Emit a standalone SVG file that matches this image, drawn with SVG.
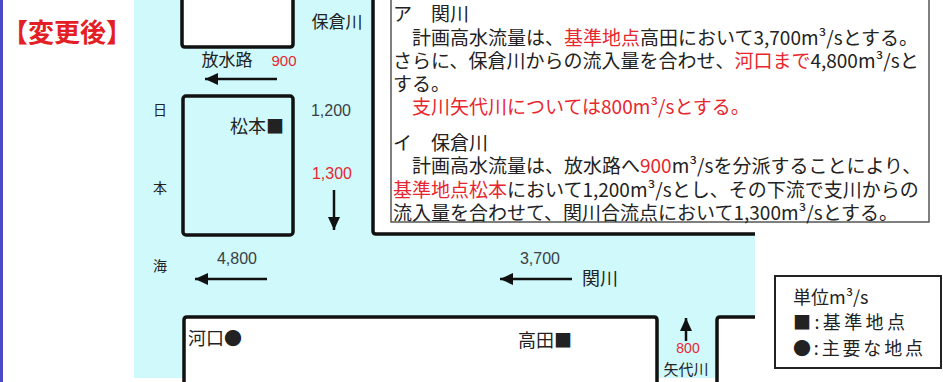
<svg xmlns="http://www.w3.org/2000/svg" width="943" height="382" viewBox="0 0 943 382">
<style>
.jp{font-family:"Noto Sans CJK JP","Noto Sans",sans-serif;fill:#222}
.num{font-family:"Liberation Sans","DejaVu Sans",sans-serif;fill:#3a3f45}
.red{fill:#e8262e}
.land{fill:none;stroke:#111;stroke-width:3.5;stroke-linejoin:round}
.arr{stroke:#111;stroke-width:2.5;fill:none;marker-end:url(#ah)}
.tb{font-size:19px}
.lg{font-size:18px}
</style>
<defs>
<marker id="ah" markerUnits="userSpaceOnUse" markerWidth="14" markerHeight="12" refX="13" refY="6" orient="auto">
<path d="M0,0 L13,6 L0,12 z" fill="#111"/>
</marker>
</defs>
<rect x="0" y="0" width="943" height="382" fill="#fff"/>
<line x1="1.5" y1="0" x2="1.5" y2="382" stroke="#4a4ac8" stroke-width="3"/>
<g id="title"><text class="jp" x="2" y="42" font-size="26" font-weight="bold" style="fill:#e41e25">【変更後】</text></g>
<g id="water">
<path d="M134,0 H373 V234 H755 V317 H717 V378 H657 V317 H184 V378 H134 Z" fill="#cff9fb"/>
</g>
<g id="land">
<path d="M182,-2 V47 H293 V-2 Z" fill="#fff"/>
<path class="land" d="M182,0 V44 Q182,47 185,47 H290 Q293,47 293,44 V0"/>
<rect id="matsumoto-block" class="land" x="183" y="96" width="110" height="139" rx="3" fill="#fff"/>
<path class="land" d="M373,0 V231 Q373,234 376,234 H755"/>
<path class="land" d="M184,382 V320 Q184,317 187,317 H654 Q657,317 657,320 V382"/>
<path class="land" d="M717,382 V320 Q717,317 720,317 H755"/>
</g>
<g id="connectors">
<line class="arr" x1="277" y1="79" x2="205" y2="79"/>
<line class="arr" x1="334" y1="190" x2="334" y2="230"/>
<line class="arr" x1="267" y1="279" x2="195" y2="279"/>
<line class="arr" x1="572" y1="279" x2="500" y2="279"/>
<line class="arr" x1="686" y1="341" x2="686" y2="318"/>
</g>
<g id="labels">
<text class="jp" x="337" y="28" font-size="17" text-anchor="middle">保倉川</text>
<text class="jp" x="227" y="66" font-size="17" text-anchor="middle">放水路</text>
<text class="num red" x="284" y="66" font-size="15" text-anchor="middle">900</text>
<text class="jp" x="160" y="115" font-size="14" text-anchor="middle">日</text>
<text class="jp" x="160" y="193" font-size="14" text-anchor="middle">本</text>
<text class="jp" x="160" y="271" font-size="14" text-anchor="middle">海</text>
<text class="num" x="331" y="116" font-size="16" text-anchor="middle">1,200</text>
<text class="num red" x="332" y="179" font-size="16" text-anchor="middle">1,300</text>
<text class="num" x="237" y="264" font-size="16" text-anchor="middle">4,800</text>
<text class="num" x="540" y="264" font-size="16" text-anchor="middle">3,700</text>
<text class="jp" x="582" y="285" font-size="18">関川</text>
<text class="num red" x="688" y="353" font-size="14" text-anchor="middle">800</text>
<text class="jp" x="686" y="375" font-size="15" text-anchor="middle">矢代川</text>
</g>
<g id="matsumoto"><text class="jp" x="284" y="133" font-size="18" text-anchor="end">松本■</text></g>
<g id="kakou"><text class="jp" x="188" y="345" font-size="18">河口●</text></g>
<g id="takada"><text class="jp" x="518" y="347" font-size="18">高田■</text></g>
<g id="textbox">
<rect x="391" y="-2" width="538" height="224" fill="#fff" stroke="#555" stroke-width="1.5"/>
<text class="jp tb" x="393" y="21">ア　関川</text>
<text class="jp tb" x="393" y="45">　計画高水流量は、<tspan class="red">基準地点</tspan>高田において3,700m³/sとする。</text>
<text class="jp tb" x="393" y="68">さらに、保倉川からの流入量を合わせ、<tspan class="red">河口まで</tspan>4,800m³/sと</text>
<text class="jp tb" x="393" y="91">する。</text>
<text class="jp tb red" x="393" y="114">　支川矢代川については800m³/sとする。</text>
<text class="jp tb" x="393" y="150">イ　保倉川</text>
<text class="jp tb" x="393" y="173">　計画高水流量は、放水路へ<tspan class="red">900</tspan>m³/sを分派することにより、</text>
<text class="jp tb" x="393" y="197"><tspan class="red">基準地点松本</tspan>において1,200m³/sとし、その下流で支川からの</text>
<text class="jp tb" x="393" y="220">流入量を合わせて、関川合流点において1,300m³/sとする。</text>
</g>
<g id="legend">
<rect x="775" y="276" width="166" height="92" fill="#fff" stroke="#222" stroke-width="2"/>
<text class="jp lg" x="793" y="304">単位m³/s</text>
<text class="jp lg" x="793" y="329" textLength="112" lengthAdjust="spacing">■:基準地点</text>
<text class="jp lg" x="793" y="355" textLength="130" lengthAdjust="spacing">●:主要な地点</text>
</g>
</svg>
